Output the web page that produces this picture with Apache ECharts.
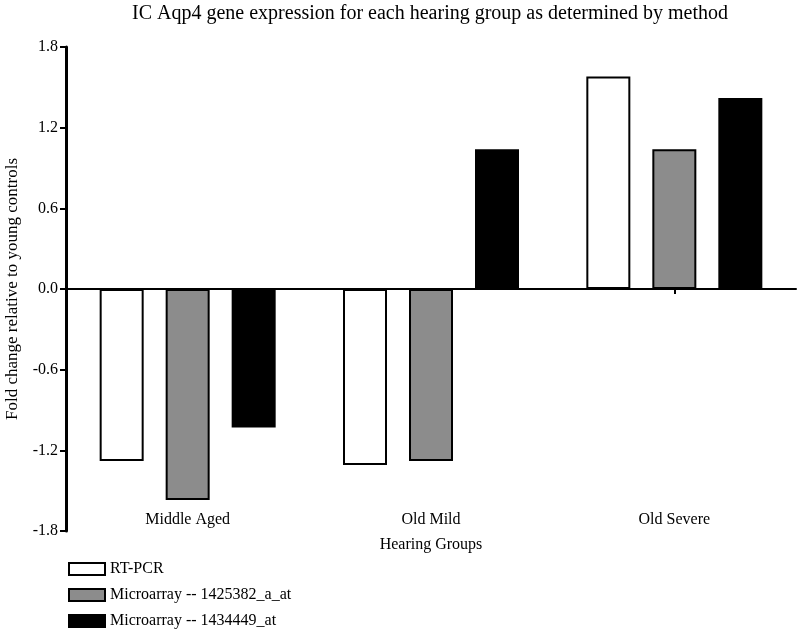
<!DOCTYPE html>
<html>
<head>
<meta charset="utf-8">
<script src="https://cdn.jsdelivr.net/npm/echarts@6/dist/echarts.min.js"></script>
<style>html,body{margin:0;padding:0;background:#fff}#c{width:800px;height:637px}</style>
</head>
<body>
<div id="c"></div>
<script>
var categories = ['Middle Aged', 'Old Mild', 'Old Severe'];
var seriesNames = ['RT-PCR', 'Microarray -- 1425382_a_at', 'Microarray -- 1434449_at'];
var rtpcr = [-1.28, -1.31, 1.58];
var micro1 = [-1.57, -1.28, 1.04];
var micro2 = [-1.03, 1.04, 1.42];
var yTicks = [-1.8, -1.2, -0.6, 0.0, 0.6, 1.2, 1.8];

var font = '"Liberation Serif", "Times New Roman", serif';
var colors = ['#ffffff', '#8c8c8c', '#000000'];
var values = [rtpcr, micro1, micro2];

var chart = echarts.init(document.getElementById('c'));
chart.setOption({
  animation: false,
  backgroundColor: '#fff',
  textStyle: { fontFamily: font, color: '#000' },
  title: {
    text: 'IC Aqp4 gene expression for each hearing group as determined by method',
    left: 430, textAlign: 'center', top: 4, padding: 0,
    textStyle: { fontFamily: font, fontSize: 20, fontWeight: 'normal', color: '#000' }
  },
  legend: {
    orient: 'vertical', left: 68, top: 561, padding: 0,
    icon: 'rect',
    itemWidth: 36, itemHeight: 12, itemGap: 10,
    textStyle: { fontFamily: font, fontSize: 16, color: '#000' },
    data: seriesNames
  },
  grid: { left: 66, right: 4, top: 47, bottom: 106, containLabel: false, outerBoundsMode: 'none' },
  xAxis: [{
    type: 'category', data: categories,
    axisLine: { onZero: true, lineStyle: { color: '#000', width: 2 } },
    axisTick: { show: true, alignWithLabel: true, length: 5, lineStyle: { color: '#000', width: 2 } },
    axisLabel: { show: false }
  }, {
    type: 'category', data: categories, position: 'bottom',
    axisLine: { show: false, onZero: false }, axisTick: { show: false },
    axisLabel: { inside: true, margin: 3, fontFamily: font, fontSize: 16, color: '#000' },
    name: 'Hearing Groups', nameLocation: 'middle', nameGap: 1,
    nameTextStyle: { fontFamily: font, fontSize: 16, color: '#000' }
  }],
  yAxis: {
    type: 'value', min: -1.8, max: 1.8, interval: 0.6,
    name: 'Fold change relative to young controls', nameLocation: 'middle', nameGap: 45,
    nameTextStyle: { fontFamily: font, fontSize: 17, color: '#000' },
    axisLine: { show: true, lineStyle: { color: '#000', width: 3 } },
    axisTick: { show: true, length: 6, lineStyle: { color: '#000', width: 2 } },
    axisLabel: { fontFamily: font, fontSize: 16, color: '#000', margin: 8,
      formatter: function (v) { return v.toFixed(1); } },
    splitLine: { show: false }
  },
  series: seriesNames.map(function (n, i) {
    return {
      name: n, type: 'bar', xAxisIndex: 0, data: values[i],
      barWidth: 44, barGap: '50%',
      itemStyle: { color: colors[i], borderColor: '#000', borderWidth: 2 }
    };
  })
});
</script>
</body>
</html>
